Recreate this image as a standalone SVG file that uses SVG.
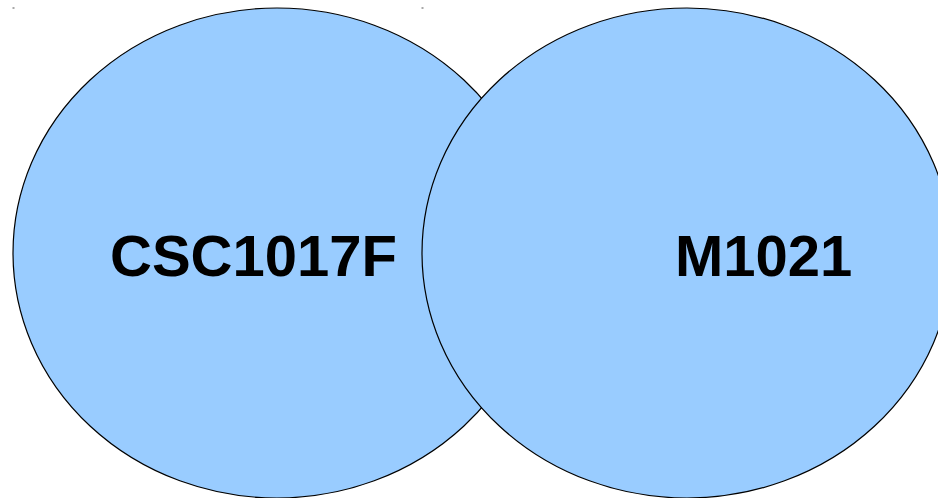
<svg xmlns="http://www.w3.org/2000/svg" width="938" height="498" viewBox="0 0 938 498">
  <style>
    .set { fill: #99ccff; stroke: #000000; stroke-width: 1.2; }
    .lbl { font-family: "Liberation Sans", Arial, sans-serif; font-weight: bold; font-size: 58px; fill: #000000; }
    .mark { fill: #555555; }
  </style>
  <rect width="938" height="498" fill="#ffffff"/>
  <rect class="mark" x="12.5" y="7.5" width="2" height="1"/>
  <rect class="mark" x="421.5" y="7.5" width="2" height="1"/>
  <g id="csc1017f">
    <ellipse class="set" cx="277" cy="253" rx="264" ry="245"/>
    <text class="lbl" x="110" y="276">CSC1017F</text>
  </g>
  <g id="m1021">
    <ellipse class="set" cx="687" cy="253" rx="265" ry="245"/>
    <text class="lbl" x="675" y="276">M1021</text>
  </g>
  <g id="connectors"/>
</svg>
